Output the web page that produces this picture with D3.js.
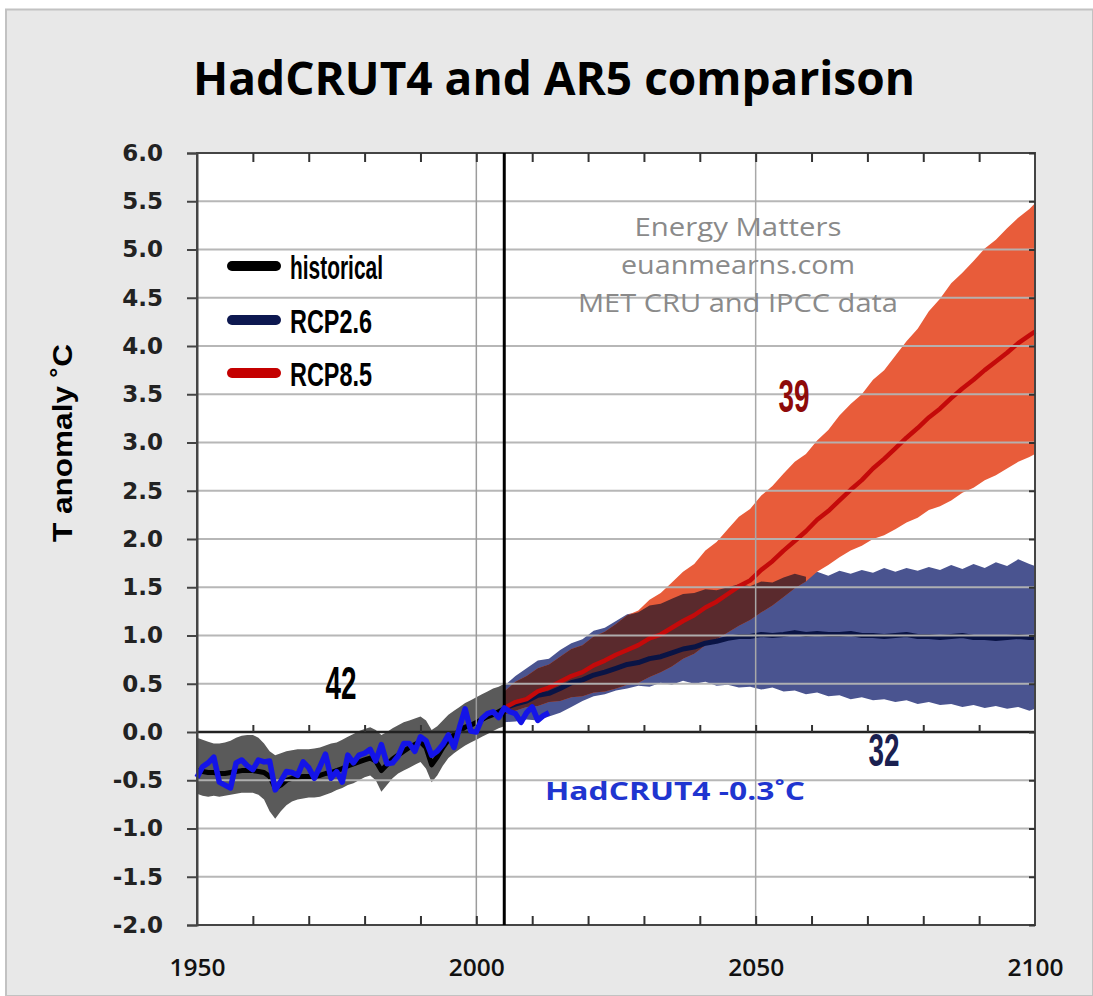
<!DOCTYPE html>
<html><head><meta charset="utf-8">
<script src="https://cdn.jsdelivr.net/npm/d3@7"></script>
<style>html,body{margin:0;padding:0;background:#fff;} svg{display:block}</style>
</head><body>
<svg id="chart" width="1093" height="996"></svg>
<script>
// ---------- DATA ----------
const histYears = [1950,1951,1952,1953,1954,1955,1956,1957,1958,1959,1960,1961,1962,1963,1964,1965,1966,1967,1968,1969,1970,1971,1972,1973,1974,1975,1976,1977,1978,1979,1980,1981,1982,1983,1984,1985,1986,1987,1988,1989,1990,1991,1992,1993,1994,1995,1996,1997,1998,1999,2000,2001,2002,2003,2004,2005];
const histMean = [-0.40,-0.41,-0.42,-0.42,-0.43,-0.43,-0.42,-0.41,-0.40,-0.40,-0.40,-0.41,-0.42,-0.46,-0.58,-0.55,-0.50,-0.48,-0.47,-0.46,-0.46,-0.46,-0.45,-0.43,-0.42,-0.40,-0.38,-0.35,-0.33,-0.31,-0.29,-0.27,-0.30,-0.40,-0.34,-0.28,-0.24,-0.20,-0.16,-0.13,-0.10,-0.16,-0.34,-0.26,-0.16,-0.08,-0.03,0.01,0.05,0.07,0.10,0.13,0.16,0.18,0.21,0.24];
const histUpper = [-0.06,-0.08,-0.10,-0.12,-0.12,-0.11,-0.09,-0.06,-0.04,-0.03,-0.03,-0.06,-0.12,-0.20,-0.24,-0.22,-0.20,-0.19,-0.18,-0.18,-0.18,-0.17,-0.16,-0.14,-0.12,-0.11,-0.08,-0.05,-0.02,0.01,0.03,0.05,0.02,-0.03,0.00,0.04,0.07,0.10,0.12,0.14,0.16,0.12,0.02,0.06,0.12,0.18,0.22,0.26,0.30,0.33,0.36,0.39,0.42,0.45,0.47,0.50];
const histLower = [-0.64,-0.66,-0.67,-0.66,-0.67,-0.66,-0.65,-0.64,-0.63,-0.63,-0.63,-0.65,-0.70,-0.82,-0.90,-0.82,-0.76,-0.72,-0.70,-0.69,-0.68,-0.68,-0.67,-0.65,-0.63,-0.60,-0.58,-0.55,-0.53,-0.50,-0.47,-0.45,-0.50,-0.62,-0.55,-0.48,-0.43,-0.40,-0.37,-0.34,-0.31,-0.38,-0.52,-0.45,-0.35,-0.27,-0.22,-0.18,-0.14,-0.11,-0.08,-0.05,-0.02,0.01,0.04,0.06];

const hadYears = [1950,1951,1952,1953,1954,1955,1956,1957,1958,1959,1960,1961,1962,1963,1964,1965,1966,1967,1968,1969,1970,1971,1972,1973,1974,1975,1976,1977,1978,1979,1980,1981,1982,1983,1984,1985,1986,1987,1988,1989,1990,1991,1992,1993,1994,1995,1996,1997,1998,1999,2000,2001,2002,2003,2004,2005,2006,2007,2008,2009,2010,2011,2012,2013];
const hadcrut = [-0.47,-0.36,-0.32,-0.26,-0.52,-0.55,-0.58,-0.32,-0.29,-0.35,-0.39,-0.29,-0.31,-0.30,-0.60,-0.51,-0.41,-0.42,-0.45,-0.31,-0.37,-0.48,-0.36,-0.23,-0.48,-0.41,-0.52,-0.24,-0.32,-0.24,-0.22,-0.18,-0.30,-0.13,-0.33,-0.32,-0.25,-0.12,-0.12,-0.20,-0.05,-0.09,-0.24,-0.20,-0.13,-0.03,-0.16,0.05,0.24,0.01,0.00,0.14,0.19,0.21,0.15,0.25,0.21,0.19,0.10,0.20,0.26,0.12,0.17,0.20];

const projYears = [2005,2007,2009,2011,2013,2015,2017,2019,2021,2023,2025,2027,2029,2031,2033,2035,2037,2039,2041,2043,2045,2047,2049,2051,2053,2055,2057,2059,2061,2063,2065,2067,2069,2071,2073,2075,2077,2079,2081,2083,2085,2087,2089,2091,2093,2095,2097,2099,2100];
const rcp85Mean = [0.25,0.31,0.34,0.42,0.46,0.52,0.58,0.62,0.69,0.74,0.80,0.85,0.90,0.97,1.01,1.08,1.15,1.21,1.29,1.35,1.43,1.51,1.57,1.68,1.77,1.88,1.98,2.08,2.20,2.29,2.40,2.51,2.61,2.73,2.83,2.94,3.05,3.15,3.26,3.35,3.46,3.56,3.65,3.75,3.84,3.93,4.03,4.11,4.15];
const rcp85Upper = [0.42,0.52,0.58,0.66,0.70,0.78,0.86,0.90,0.99,1.04,1.12,1.21,1.26,1.37,1.44,1.55,1.66,1.74,1.88,1.97,2.10,2.23,2.31,2.45,2.55,2.68,2.80,2.88,3.02,3.13,3.28,3.40,3.50,3.65,3.75,3.90,4.05,4.18,4.36,4.49,4.65,4.76,4.88,5.01,5.10,5.22,5.33,5.42,5.48];
const rcp85Lower = [0.18,0.22,0.26,0.27,0.31,0.32,0.36,0.37,0.41,0.42,0.45,0.49,0.51,0.57,0.62,0.68,0.76,0.81,0.90,0.96,1.03,1.10,1.16,1.24,1.31,1.40,1.49,1.56,1.66,1.73,1.81,1.88,1.93,2.00,2.04,2.10,2.17,2.22,2.30,2.34,2.40,2.48,2.53,2.61,2.66,2.73,2.80,2.85,2.88];
const rcp26Mean = [0.25,0.29,0.32,0.38,0.40,0.45,0.51,0.54,0.59,0.62,0.66,0.70,0.72,0.76,0.78,0.82,0.86,0.88,0.92,0.94,0.97,0.99,0.99,1.01,1.00,1.01,1.03,1.01,1.02,1.01,1.01,1.02,1.00,1.00,0.99,1.00,1.01,0.99,0.99,0.98,0.99,1.00,0.98,0.98,0.97,0.98,0.99,0.98,0.98];
const rcp26Upper = [0.48,0.58,0.66,0.74,0.76,0.85,0.92,0.96,1.05,1.08,1.15,1.22,1.24,1.31,1.33,1.38,1.43,1.44,1.48,1.47,1.50,1.53,1.51,1.56,1.55,1.60,1.64,1.61,1.66,1.62,1.67,1.64,1.68,1.65,1.70,1.66,1.70,1.67,1.71,1.68,1.73,1.69,1.74,1.70,1.76,1.72,1.79,1.74,1.72];
const rcp26Lower = [0.10,0.11,0.13,0.12,0.16,0.20,0.26,0.32,0.37,0.39,0.43,0.45,0.48,0.47,0.51,0.49,0.53,0.50,0.52,0.48,0.49,0.46,0.47,0.44,0.46,0.42,0.43,0.39,0.41,0.37,0.38,0.34,0.36,0.33,0.34,0.31,0.33,0.29,0.31,0.28,0.29,0.26,0.28,0.25,0.27,0.24,0.26,0.22,0.24];

const yTicks = [-2.0,-1.5,-1.0,-0.5,0.0,0.5,1.0,1.5,2.0,2.5,3.0,3.5,4.0,4.5,5.0,5.5,6.0];
const xLabelTicks = [1950,2000,2050,2100];
const xMinorTicks = [1960,1970,1980,1990,2000,2010,2020,2030,2040,2050,2060,2070,2080,2090];
const legendItems = ["historical","RCP2.6","RCP8.5"];
const legendColors = ["#000000","#0d1850","#c40000"];
const watermark = ["Energy Matters","euanmearns.com","MET CRU and IPCC data"];

// ---------- SETUP ----------
const svg = d3.select("#chart");
const W = 1093, H = 996;
const L = 197, R = 1035, T = 153, B = 925;
const x = d3.scaleLinear().domain([1950,2100]).range([L,R]);
const y = d3.scaleLinear().domain([-2,6]).range([B,T]);

// outer background
svg.append("rect").attr("x",0).attr("y",0).attr("width",W).attr("height",H).attr("fill","#ffffff");
svg.append("rect").attr("x",6).attr("y",9.5).attr("width",W-6).attr("height",H-9.5)
  .attr("fill","#e8e8e8").attr("stroke","#c2c2c2").attr("stroke-width",2);
// plot background
svg.append("rect").attr("x",L).attr("y",T).attr("width",R-L).attr("height",B-T).attr("fill","#ffffff");

const band = (yrs, lo, hi) => d3.area()
  .x((d,i)=>x(yrs[i])).y0((d,i)=>y(lo[i])).y1((d,i)=>y(hi[i]));
const line = (yrs, v) => d3.line().x((d,i)=>x(yrs[i])).y((d,i)=>y(v[i]));

// bands
svg.append("path").attr("d", band(histYears,histLower,histUpper)(histYears)).attr("fill","#5a5a5a");
svg.append("path").attr("d", band(projYears,rcp26Lower,rcp26Upper)(projYears)).attr("fill","#4a5490");
svg.append("path").attr("d", band(projYears,rcp85Lower,rcp85Upper)(projYears)).attr("fill","#e85c3a");
// overlap of the two projection envelopes
const ovLo = projYears.map((d,i)=>Math.max(rcp85Lower[i],rcp26Lower[i]));
const ovHi = projYears.map((d,i)=>Math.min(rcp85Upper[i],rcp26Upper[i]));
svg.append("path").attr("d", d3.area()
    .defined((d,i)=>ovHi[i]>ovLo[i])
    .x((d,i)=>x(projYears[i])).y0((d,i)=>y(ovLo[i])).y1((d,i)=>y(ovHi[i]))(projYears))
  .attr("fill","#5a2a2d");

// mean lines
svg.append("path").attr("d", line(histYears,histMean)(histYears)).attr("fill","none").attr("stroke","#000").attr("stroke-width",5).attr("stroke-linejoin","round");
svg.append("path").attr("d", line(projYears,rcp26Mean)(projYears)).attr("fill","none").attr("stroke","#0a1445").attr("stroke-width",5).attr("stroke-linejoin","round");
svg.append("path").attr("d", line(projYears,rcp85Mean)(projYears)).attr("fill","none").attr("stroke","#c40a0a").attr("stroke-width",4.5).attr("stroke-linejoin","round");

// horizontal gridlines (drawn over the data)
svg.append("g").selectAll("line").data(yTicks.filter(v=>v!==0 && v!==6 && v!==-2)).join("line")
  .attr("x1",L).attr("x2",R).attr("y1",d=>y(d)).attr("y2",d=>y(d))
  .attr("stroke","#b4b4b4").attr("stroke-width",2).attr("opacity",0.95);
// vertical reference lines
svg.append("line").attr("x1",x(2000)).attr("x2",x(2000)).attr("y1",T).attr("y2",B).attr("stroke","#9c9c9c").attr("stroke-width",1.5);
svg.append("line").attr("x1",x(2050)).attr("x2",x(2050)).attr("y1",T).attr("y2",B).attr("stroke","#a8a8a8").attr("stroke-width",1.5);

// zero line with ticks
svg.append("line").attr("x1",L).attr("x2",R).attr("y1",y(0)).attr("y2",y(0)).attr("stroke","#222").attr("stroke-width",2.5);
const zeroAxis = d3.axisTop(x).tickValues(xMinorTicks).tickSize(7).tickFormat("");
svg.append("g").attr("transform",`translate(0,${y(0)})`).call(zeroAxis)
  .call(g=>{g.select(".domain").remove(); g.selectAll("line").attr("stroke","#333").attr("stroke-width",2);});

// frame
svg.append("rect").attr("x",L).attr("y",T).attr("width",R-L).attr("height",B-T)
  .attr("fill","none").attr("stroke","#444").attr("stroke-width",2);
// top / bottom inner ticks
svg.append("g").attr("transform",`translate(0,${T})`).call(d3.axisBottom(x).tickValues(xMinorTicks).tickSize(9).tickFormat(""))
  .call(g=>{g.select(".domain").remove(); g.selectAll("line").attr("stroke","#333").attr("stroke-width",2);});
svg.append("g").attr("transform",`translate(0,${B})`).call(d3.axisTop(x).tickValues(xMinorTicks).tickSize(9).tickFormat(""))
  .call(g=>{g.select(".domain").remove(); g.selectAll("line").attr("stroke","#333").attr("stroke-width",2);});
// right inner ticks
svg.append("g").attr("transform",`translate(${R},0)`).call(d3.axisRight(y).tickValues(yTicks).tickSize(-6).tickFormat(""))
  .call(g=>{g.select(".domain").remove(); g.selectAll("line").attr("stroke","#333").attr("stroke-width",2);});

// 2005 black line
svg.append("line").attr("x1",x(2005)).attr("x2",x(2005)).attr("y1",T).attr("y2",B).attr("stroke","#000").attr("stroke-width",3);

// HadCRUT4 observations
svg.append("path").attr("d", line(hadYears,hadcrut)(hadYears)).attr("fill","none").attr("stroke","#1414e8").attr("stroke-width",5.5).attr("stroke-linejoin","round");

// left axis
const fmt = d3.format(".1f");
const yAxis = d3.axisLeft(y).tickValues(yTicks).tickSize(10).tickPadding(24).tickFormat(d=>fmt(d).replace("\u2212","-"));
svg.append("g").attr("transform",`translate(${L},0)`).call(yAxis)
  .call(g=>{
    g.select(".domain").attr("stroke","#444").attr("stroke-width",2);
    g.selectAll("line").attr("stroke","#444").attr("stroke-width",2);
    g.selectAll("text").attr("font-family","DejaVu Sans").attr("font-weight","bold").attr("font-size",23).attr("fill","#222");
  });
// bottom labels
const xAxis = d3.axisBottom(x).tickValues(xLabelTicks).tickSize(0).tickPadding(34).tickFormat(d3.format("d"));
svg.append("g").attr("transform",`translate(0,${B})`).call(xAxis)
  .call(g=>{
    g.select(".domain").remove();
    g.selectAll("text").attr("font-family","Open Sans").attr("font-weight","600").attr("font-size",24).attr("fill","#111")
      .attr("textLength",56).attr("lengthAdjust","spacingAndGlyphs");
  });

// title
svg.append("text").attr("x",554).attr("y",95).attr("text-anchor","middle")
  .attr("font-family","Open Sans").attr("font-weight","bold").attr("font-size",46).attr("fill","#000")
  .attr("textLength",722).attr("lengthAdjust","spacingAndGlyphs")
  .text("HadCRUT4 and AR5 comparison");

// y axis title
svg.append("text").attr("transform","translate(72,443) rotate(-90)").attr("text-anchor","middle")
  .attr("font-family","Liberation Sans Narrow, Liberation Sans").attr("font-weight","bold").attr("font-size",28).attr("fill","#000")
  .attr("textLength",198).attr("lengthAdjust","spacingAndGlyphs")
  .text("T anomaly \u02DAC");

// watermark
const wmY = [236,274,312], wmLen = [207,234,320];
svg.append("g").selectAll("text").data(watermark).join("text")
  .attr("x",738).attr("y",(d,i)=>wmY[i]).attr("text-anchor","middle")
  .attr("font-family","Open Sans").attr("font-size",26).attr("fill","#8a8a8a")
  .attr("textLength",(d,i)=>wmLen[i]).attr("lengthAdjust","spacingAndGlyphs")
  .text(d=>d);

// legend
const lgY = [266,320,373], lgLen = [93,82,82];
const lg = svg.append("g");
lg.selectAll("line").data(legendItems).join("line")
  .attr("x1",232).attr("x2",276).attr("y1",(d,i)=>lgY[i]).attr("y2",(d,i)=>lgY[i])
  .attr("stroke",(d,i)=>legendColors[i]).attr("stroke-width",10).attr("stroke-linecap","round");
lg.selectAll("text").data(legendItems).join("text")
  .attr("x",290).attr("y",(d,i)=>lgY[i]+13).attr("font-family","Liberation Sans Narrow, Liberation Sans")
  .attr("font-weight","bold").attr("font-size",34).attr("fill","#000")
  .attr("textLength",(d,i)=>lgLen[i]).attr("lengthAdjust","spacingAndGlyphs")
  .text(d=>d);

// count annotations
const notes = [
  {t:"42", x:341, y:699, c:"#000"},
  {t:"39", x:794, y:412, c:"#8e0a0a"},
  {t:"32", x:884, y:766, c:"#1a2050"}
];
svg.append("g").selectAll("text").data(notes).join("text")
  .attr("x",d=>d.x).attr("y",d=>d.y).attr("text-anchor","middle")
  .attr("font-family","Liberation Sans Narrow, Liberation Sans").attr("font-weight","bold").attr("font-size",46).attr("fill",d=>d.c)
  .attr("textLength",31).attr("lengthAdjust","spacingAndGlyphs")
  .text(d=>d.t);

// HadCRUT4 label
svg.append("text").attr("x",545).attr("y",800)
  .attr("font-family","Open Sans").attr("font-weight","bold").attr("font-size",25).attr("fill","#1f35d0")
  .attr("textLength",260).attr("lengthAdjust","spacingAndGlyphs")
  .text("HadCRUT4 -0.3\u02DAC");
</script>
</body></html>
